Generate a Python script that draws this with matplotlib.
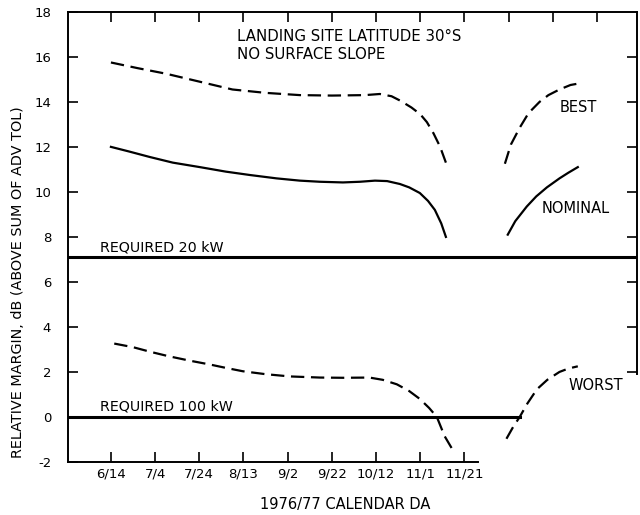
import numpy as np
import matplotlib
matplotlib.use('Agg')
import matplotlib.pyplot as plt

plt.rcParams['axes.unicode_minus'] = False

# x = days after 6/14 (1976); y = relative margin, dB
best_a_day = [0, 12, 25, 40, 55, 70, 85.5, 100, 115, 121.7, 127, 131, 136, 140, 143, 146, 149, 151.6]
best_a_db = [15.75, 15.5, 15.25, 14.9, 14.55, 14.4, 14.3, 14.28, 14.3, 14.35, 14.25, 14.05, 13.75, 13.45, 13.1, 12.6, 12.0, 11.3]
best_b_day = [178.3, 181, 185, 189, 194, 198, 203, 208, 213.6]
best_b_db = [11.25, 12.1, 12.85, 13.5, 14.0, 14.3, 14.55, 14.75, 14.85]

nom_a_day = [0, 8, 17.6, 28, 40.3, 52, 62.9, 75, 85.5, 94.6, 105, 112.7, 119.5, 125, 130.8, 135, 139.8, 143.5, 146.6, 149.5, 151.6]
nom_a_db = [12.0, 11.8, 11.55, 11.3, 11.1, 10.9, 10.75, 10.6, 10.5, 10.45, 10.42, 10.45, 10.5, 10.48, 10.35, 10.2, 9.95, 9.6, 9.2, 8.6, 8.0]
nom_b_day = [179.6, 183, 188.2, 192.5, 197.3, 203, 207, 211.3]
nom_b_db = [8.1, 8.7, 9.35, 9.8, 10.2, 10.6, 10.85, 11.1]

worst_a_day = [1.5, 10, 17.6, 26, 35.7, 44.8, 52, 59.7, 70, 81, 94.6, 105, 117, 123, 129.4, 135, 139.8, 144, 147.5, 151, 154.3]
worst_a_db = [3.26, 3.1, 2.9, 2.7, 2.5, 2.33, 2.18, 2.03, 1.9, 1.8, 1.75, 1.74, 1.75, 1.65, 1.45, 1.15, 0.8, 0.4, 0.0, -0.85, -1.4]
worst_b_day = [179, 182, 185, 188.5, 192.8, 197.5, 203, 207, 211.3]
worst_b_db = [-0.97, -0.45, 0.0, 0.6, 1.23, 1.65, 2.0, 2.15, 2.25]

req_20kw = 7.1
req_100kw = 0.0
req_100kw_end = 185

tick_days = [0, 20, 40, 60, 80, 100, 120, 140, 160, 180, 200, 220]
tick_labels = ['6/14', '7/4', '7/24', '8/13', '9/2', '9/22', '10/12', '11/1', '11/21', '', '', '']
y_ticks = [-2, 0, 2, 4, 6, 8, 10, 12, 14, 16, 18]

fig = plt.figure(figsize=(6.4, 5.15), dpi=100)
ax = fig.add_axes([0.106, 0.103, 0.889, 0.874])

dash = (6, 3)
ax.plot(best_a_day, best_a_db, color='black', lw=1.6, dashes=dash)
ax.plot(best_b_day, best_b_db, color='black', lw=1.6, dashes=dash)
ax.plot(nom_a_day, nom_a_db, color='black', lw=1.6)
ax.plot(nom_b_day, nom_b_db, color='black', lw=1.6)
ax.plot(worst_a_day, worst_a_db, color='black', lw=1.6, dashes=dash)
ax.plot(worst_b_day, worst_b_db, color='black', lw=1.6, dashes=dash)

ax.axhline(req_20kw, color='black', lw=2.2)
ax.plot([-19.5, req_100kw_end], [req_100kw, req_100kw], color='black', lw=2.2)

ax.set_xlim(-19.5, 238)
ax.set_ylim(-2, 18)

ax.set_xticks(tick_days)
ax.set_xticklabels(tick_labels)
ax.set_yticks(y_ticks)
ax.tick_params(axis='both', direction='in', length=7, width=1.2, labelsize=9.5)
ax.tick_params(axis='x', top=True, pad=4)
ax.tick_params(axis='y', right=True, pad=12)

# bottom spine and ticks fade out past 11/21 in the scan
for t in ax.xaxis.get_major_ticks()[9:]:
    t.tick1line.set_visible(False)
for i, t in enumerate(ax.yaxis.get_major_ticks()):
    if y_ticks[i] in (-2, 0, 18):
        t.tick2line.set_visible(False)

for s in ax.spines.values():
    s.set_linewidth(1.4)
ax.spines['bottom'].set_bounds(-19.5, 166)
ax.spines['right'].set_bounds(1.9, 18)

ax.text(57, 16.5, 'LANDING SITE LATITUDE 30°S\nNO SURFACE SLOPE', fontsize=10.8,
        va='center', ha='left', linespacing=1.2)
ax.text(203, 13.75, 'BEST', fontsize=10.5, va='center', ha='left')
ax.text(195, 9.25, 'NOMINAL', fontsize=10.5, va='center', ha='left')
ax.text(207, 1.4, 'WORST', fontsize=10.5, va='center', ha='left')
ax.text(-5, 7.55, 'REQUIRED 20 kW', fontsize=10.3, va='center', ha='left')
ax.text(-5, 0.45, 'REQUIRED 100 kW', fontsize=10.3, va='center', ha='left')

fig.text(345 / 640, 1 - 505 / 515, '1976/77 CALENDAR DA', fontsize=10.5,
         ha='center', va='center')
fig.text(18 / 640, 1 - 282 / 515, 'RELATIVE MARGIN, dB (ABOVE SUM OF ADV TOL)',
         fontsize=10.4, rotation=90, ha='center', va='center')

fig.savefig('out.png', dpi=100)
